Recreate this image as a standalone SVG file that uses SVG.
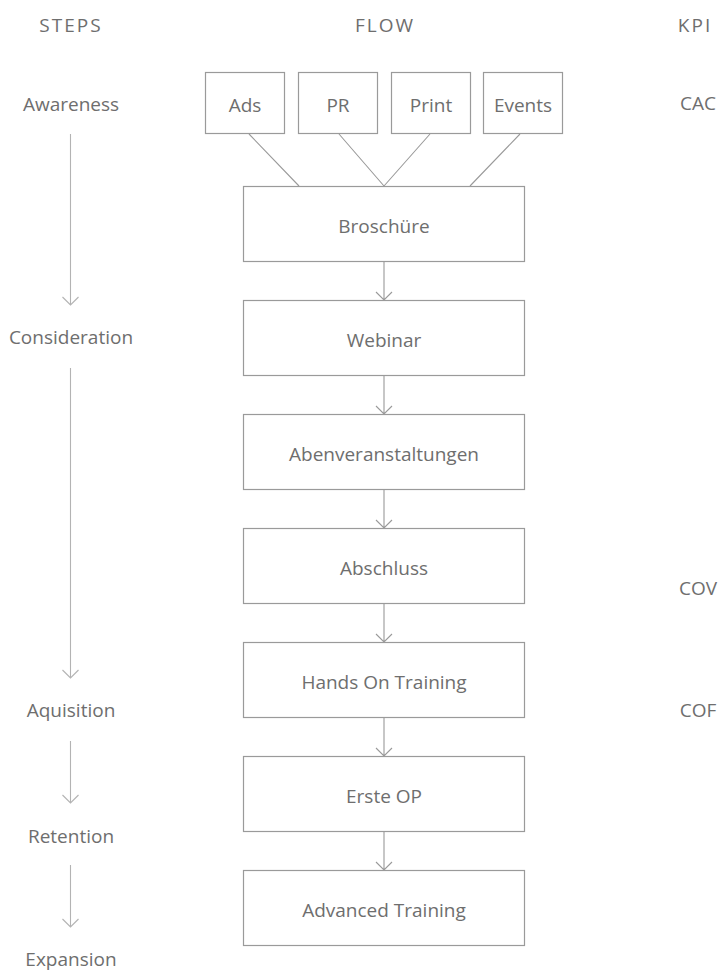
<svg xmlns="http://www.w3.org/2000/svg" width="722" height="975" viewBox="0 0 722 975">
<style>
text{font-family:"Open Sans","Noto Sans","Liberation Sans",sans-serif;font-size:19px;fill:#6e6e6e;text-anchor:middle}
.hd{letter-spacing:2px}
.box{fill:#fff;stroke:#9a9a9a;stroke-width:1.2}
.ln{stroke:#9a9a9a;stroke-width:1.1;fill:none}
.st{stroke:#b3b3b3;stroke-width:1.1;fill:none}
</style>
<rect width="722" height="975" fill="#fff"/>
<g id="headers">
<text class="hd" x="71" y="32">STEPS</text>
<text class="hd" x="385" y="32">FLOW</text>
<text class="hd" x="695" y="32">KPI</text>
</g>
<g id="steps">
<text x="71" y="111">Awareness</text>
<text x="71" y="344">Consideration</text>
<text x="71" y="717">Aquisition</text>
<text x="71" y="843">Retention</text>
<text x="71" y="966">Expansion</text>
</g>
<g id="kpi">
<text x="698" y="110">CAC</text>
<text x="698" y="595">COV</text>
<text x="698" y="717">COF</text>
</g>
<g id="connectors">
<path class="st" d="M70.5 134V305M62.5 297l8 8 8-8"/>
<path class="st" d="M70.5 368V678M62.5 670l8 8 8-8"/>
<path class="st" d="M70.5 741V803M62.5 795l8 8 8-8"/>
<path class="st" d="M70.5 865V927M62.5 919l8 8 8-8"/>
<path class="ln" d="M249 134L299 186M339 134L384 186M430 134L384 186M520 134L470 186"/>
<path class="ln" d="M384 262V300M376 292l8 8 8-8"/>
<path class="ln" d="M384 376V414M376 406l8 8 8-8"/>
<path class="ln" d="M384 490V528M376 520l8 8 8-8"/>
<path class="ln" d="M384 604V642M376 634l8 8 8-8"/>
<path class="ln" d="M384 718V756M376 748l8 8 8-8"/>
<path class="ln" d="M384 832V870M376 862l8 8 8-8"/>
</g>
<g id="ads"><rect class="box" x="205.5" y="72.5" width="79" height="61"/><text x="245" y="112">Ads</text></g>
<g id="pr"><rect class="box" x="298.5" y="72.5" width="79" height="61"/><text x="338" y="112">PR</text></g>
<g id="print"><rect class="box" x="391.5" y="72.5" width="79" height="61"/><text x="431" y="112">Print</text></g>
<g id="events"><rect class="box" x="483.5" y="72.5" width="79" height="61"/><text x="523" y="112">Events</text></g>
<g id="broschuere"><rect class="box" x="243.5" y="186.5" width="281" height="75"/><text x="384" y="233">Broschüre</text></g>
<g id="webinar"><rect class="box" x="243.5" y="300.5" width="281" height="75"/><text x="384" y="347">Webinar</text></g>
<g id="abend"><rect class="box" x="243.5" y="414.5" width="281" height="75"/><text x="384" y="461">Abenveranstaltungen</text></g>
<g id="abschluss"><rect class="box" x="243.5" y="528.5" width="281" height="75"/><text x="384" y="575">Abschluss</text></g>
<g id="handson"><rect class="box" x="243.5" y="642.5" width="281" height="75"/><text x="384" y="689">Hands On Training</text></g>
<g id="ersteop"><rect class="box" x="243.5" y="756.5" width="281" height="75"/><text x="384" y="803">Erste OP</text></g>
<g id="advanced"><rect class="box" x="243.5" y="870.5" width="281" height="75"/><text x="384" y="917">Advanced Training</text></g>
</svg>
